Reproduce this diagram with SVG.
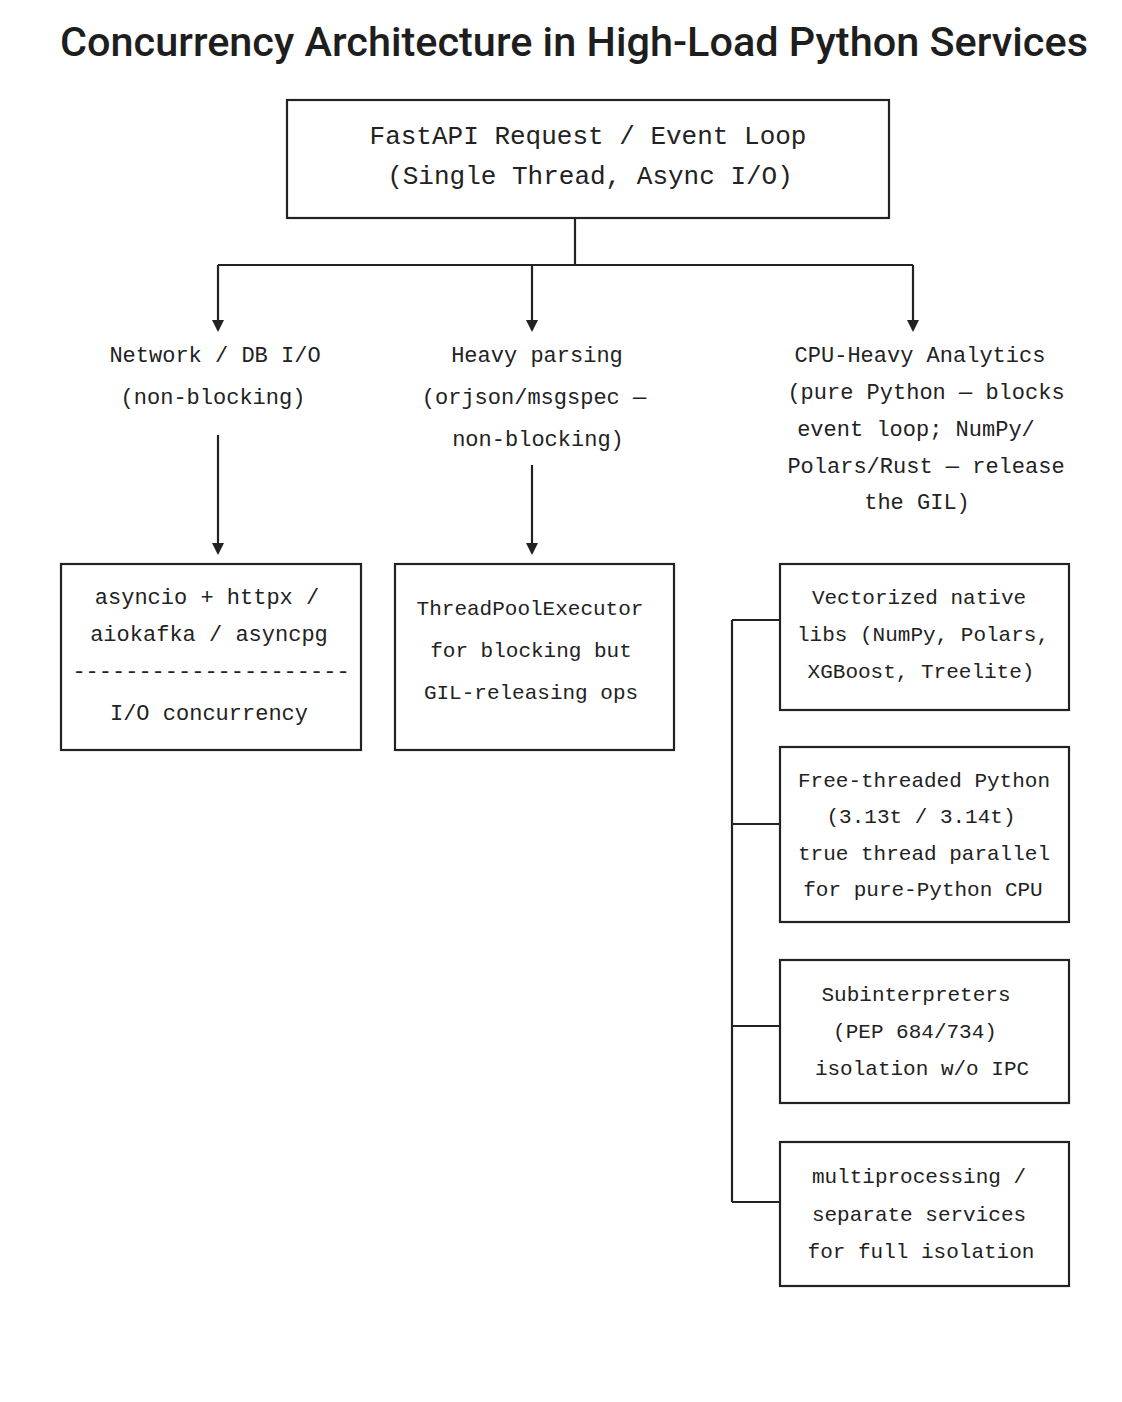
<svg xmlns="http://www.w3.org/2000/svg" width="1122" height="1402" viewBox="0 0 1122 1402">
<style>
.bg{fill:#ffffff}
.box{fill:#ffffff;stroke:#222222;stroke-width:2.2}
.ln{fill:none;stroke:#222222;stroke-width:2.2}
.t{font-family:"Liberation Mono","DejaVu Sans Mono",monospace;fill:#222222;text-anchor:middle;dominant-baseline:central}
.t26{font-size:26px}
.t22{font-size:22px}
.t21{font-size:21px}
.title{font-family:Roboto,Inter,"Liberation Sans",sans-serif;font-weight:500;font-size:41px;fill:#1e1e1e;text-anchor:middle;dominant-baseline:central}
</style>
<defs>
<marker id="ah" markerWidth="12" markerHeight="12" refX="10" refY="6" orient="auto" markerUnits="userSpaceOnUse">
<path d="M0,0 L12,6 L0,12 Z" fill="#222222"/>
</marker>
</defs>
<rect class="bg" x="0" y="0" width="1122" height="1402"/>
<text class="title" x="574" y="42" textLength="1028" lengthAdjust="spacingAndGlyphs">Concurrency Architecture in High-Load Python Services</text>

<g id="connectors">
<path class="ln" d="M575,218 V265"/>
<path class="ln" d="M218,265 H913"/>
<path class="ln" d="M218,265 V330" marker-end="url(#ah)"/>
<path class="ln" d="M532,265 V330" marker-end="url(#ah)"/>
<path class="ln" d="M913,265 V330" marker-end="url(#ah)"/>
<path class="ln" d="M218,435 V553" marker-end="url(#ah)"/>
<path class="ln" d="M532,465 V553" marker-end="url(#ah)"/>
<path class="ln" d="M732,620 V1202"/>
<path class="ln" d="M732,620 H780"/>
<path class="ln" d="M732,824 H780"/>
<path class="ln" d="M732,1026 H780"/>
<path class="ln" d="M732,1202 H780"/>
</g>

<g id="node-eventloop">
<rect class="box" x="287" y="100" width="602" height="118"/>
<text class="t t26" x="588" y="137">FastAPI Request / Event Loop</text>
<text class="t t26" x="590" y="177">(Single Thread, Async I/O)</text>
</g>

<g id="label-network">
<text class="t t22" x="215" y="356">Network / DB I/O</text>
<text class="t t22" x="213" y="398">(non-blocking)</text>
</g>

<g id="label-parsing">
<text class="t t22" x="537" y="356">Heavy parsing</text>
<text class="t t22" x="534" y="398">(orjson/msgspec —</text>
<text class="t t22" x="538" y="440">non-blocking)</text>
</g>

<g id="label-cpu">
<text class="t t22" x="920" y="356">CPU-Heavy Analytics</text>
<text class="t t22" x="926" y="393">(pure Python — blocks</text>
<text class="t t22" x="916" y="430">event loop; NumPy/</text>
<text class="t t22" x="926" y="467">Polars/Rust — release</text>
<text class="t t22" x="917" y="503">the GIL)</text>
</g>

<g id="node-asyncio">
<rect class="box" x="61" y="564" width="300" height="186"/>
<text class="t t22" x="207" y="598">asyncio + httpx /</text>
<text class="t t22" x="209" y="635">aiokafka / asyncpg</text>
<text class="t t22" x="211" y="672">---------------------</text>
<text class="t t22" x="209" y="714">I/O concurrency</text>
</g>

<g id="node-threadpool">
<rect class="box" x="395" y="564" width="279" height="186"/>
<text class="t t21" x="530" y="609">ThreadPoolExecutor</text>
<text class="t t21" x="531" y="651">for blocking but</text>
<text class="t t21" x="531" y="693">GIL-releasing ops</text>
</g>

<g id="node-vectorized">
<rect class="box" x="780" y="564" width="289" height="146"/>
<text class="t t21" x="919" y="598">Vectorized native</text>
<text class="t t21" x="923" y="635">libs (NumPy, Polars,</text>
<text class="t t21" x="921" y="672">XGBoost, Treelite)</text>
</g>

<g id="node-freethreaded">
<rect class="box" x="780" y="747" width="289" height="175"/>
<text class="t t21" x="924" y="781">Free-threaded Python</text>
<text class="t t21" x="921" y="817">(3.13t / 3.14t)</text>
<text class="t t21" x="924" y="854">true thread parallel</text>
<text class="t t21" x="923" y="890">for pure-Python CPU</text>
</g>

<g id="node-subinterpreters">
<rect class="box" x="780" y="960" width="289" height="143"/>
<text class="t t21" x="916" y="995">Subinterpreters</text>
<text class="t t21" x="915" y="1032">(PEP 684/734)</text>
<text class="t t21" x="922" y="1069">isolation w/o IPC</text>
</g>

<g id="node-multiprocessing">
<rect class="box" x="780" y="1142" width="289" height="144"/>
<text class="t t21" x="919" y="1177">multiprocessing /</text>
<text class="t t21" x="919" y="1215">separate services</text>
<text class="t t21" x="921" y="1252">for full isolation</text>
</g>
</svg>
